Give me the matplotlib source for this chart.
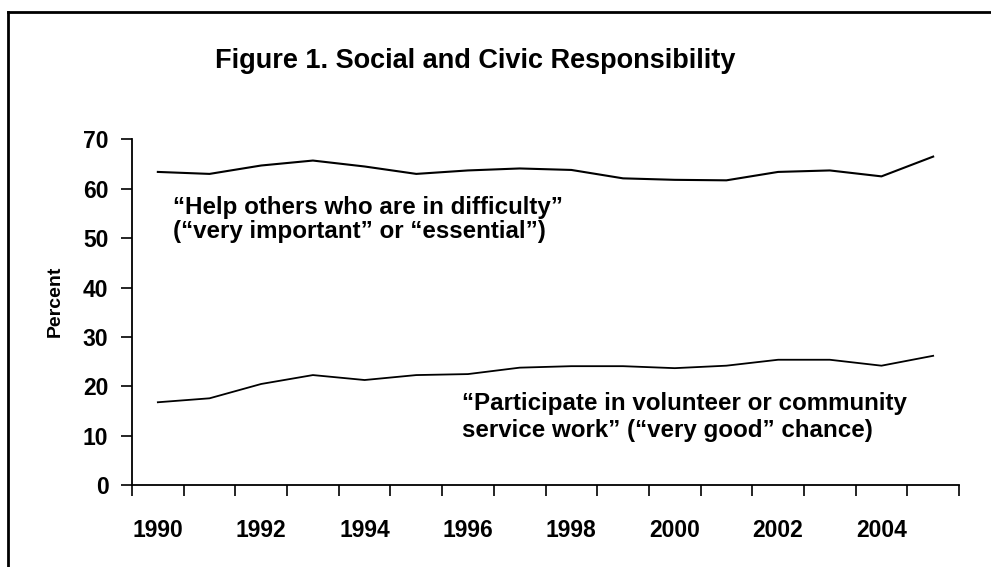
import matplotlib
matplotlib.use("Agg")
import matplotlib.pyplot as plt
from matplotlib.lines import Line2D

plt.rcParams['font.family'] = ['Liberation Sans', 'DejaVu Sans']

years = list(range(1990, 2006))
help_others = [63.4, 63.0, 64.7, 65.7, 64.5, 63.0, 63.7, 64.1, 63.8, 62.1, 61.8, 61.7, 63.4, 63.7, 62.5, 66.5]
volunteer = [16.8, 17.6, 20.5, 22.3, 21.3, 22.3, 22.5, 23.8, 24.1, 24.1, 23.7, 24.2, 25.4, 25.4, 24.2, 26.2]
tick_labels = ['1990', '1992', '1994', '1996', '1998', '2000', '2002', '2004']
yticks = [0, 10, 20, 30, 40, 50, 60, 70]
help_label = ['\u201cHelp others who are in difficulty\u201d',
              '(\u201cvery important\u201d or \u201cessential\u201d)']
vol_label = ['\u201cParticipate in volunteer or community',
             'service work\u201d (\u201cvery good\u201d chance)']

W, H = 991, 567
fig = plt.figure(figsize=(W / 100, H / 100), dpi=100)
ax = fig.add_axes([132 / W, 1 - 485.3 / H, (959 - 132) / W, (485.3 - 139.3) / H])

x = list(range(len(years)))
ax.plot(x, help_others, color='black', lw=1.5)
ax.plot(x, volunteer, color='black', lw=1.3)

ax.set_xlim(-0.5, len(years) - 0.5)
ax.set_ylim(0, 70)
ax.set_xticks([i - 0.5 for i in range(len(years) + 1)])
ax.set_xticklabels([])
ax.set_xticks([years.index(int(t)) for t in tick_labels], minor=True)
ax.set_xticklabels(tick_labels, minor=True)
ax.tick_params(axis='x', which='major', length=8, width=1.2, direction='out')
ax.tick_params(axis='x', which='minor', length=0, pad=24, labelsize=16.5)
for lab in ax.get_xticklabels(minor=True):
    lab.set_fontweight('bold')

ax.set_yticks(yticks)
ax.set_yticklabels([str(v) for v in yticks], fontsize=16.5, fontweight='bold')
ax.tick_params(axis='y', length=8, width=1.2, direction='out', pad=9)

for s in ['top', 'right']:
    ax.spines[s].set_visible(False)
for s in ['left', 'bottom']:
    ax.spines[s].set_linewidth(1.3)

fig.text(55 / W, 1 - 301 / H, 'Percent', rotation=90, ha='center', va='center',
         fontsize=14, fontweight='bold')

for line, base in zip(help_label, [214, 238]):
    fig.text(173 / W, 1 - base / H, line, ha='left', va='baseline', fontsize=17.4, fontweight='bold')
for line, base in zip(vol_label, [410, 437]):
    fig.text(462 / W, 1 - base / H, line, ha='left', va='baseline', fontsize=17.4, fontweight='bold')

fig.text(475 / W, 1 - 61 / H, 'Figure 1. Social and Civic Responsibility',
         ha='center', va='center', fontsize=19.5, fontweight='bold')

# frame
fig.add_artist(Line2D([8 / W, 8 / W], [0, 1 - 12 / H], transform=fig.transFigure, color='black', lw=2))
fig.add_artist(Line2D([8 / W, 1], [1 - 12 / H, 1 - 12 / H], transform=fig.transFigure, color='black', lw=2))

fig.savefig('out.png', dpi=100)
